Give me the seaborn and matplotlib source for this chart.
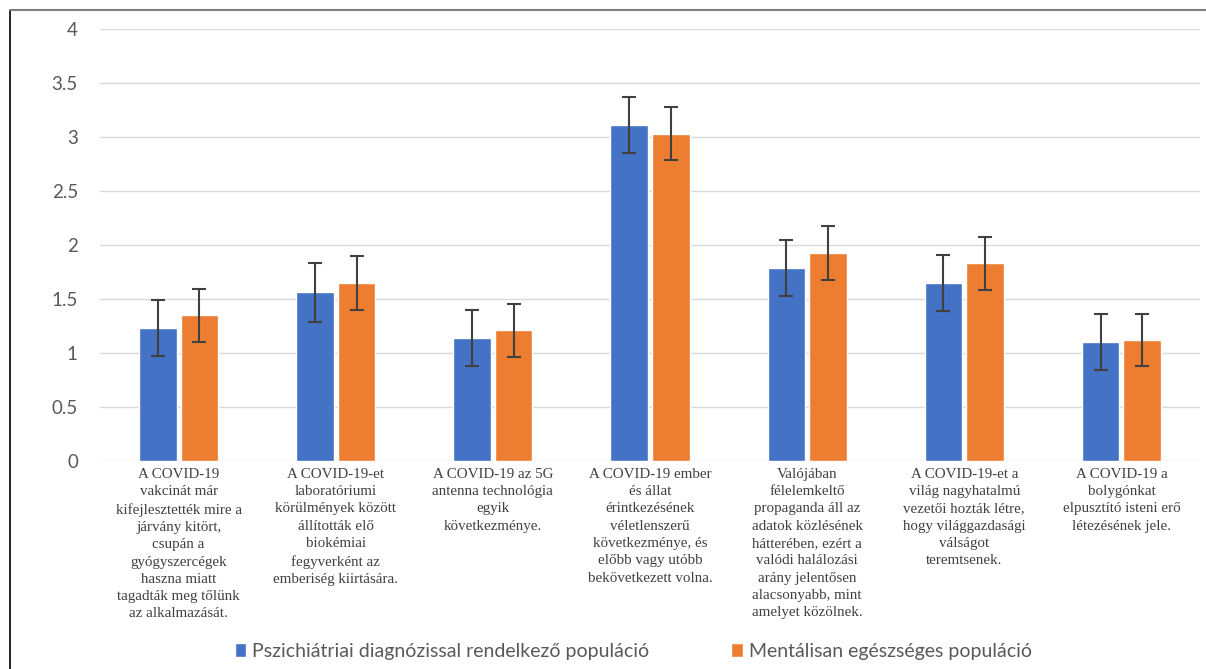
import numpy as np
import pandas as pd
import matplotlib.pyplot as plt
import seaborn as sns
from matplotlib.lines import Line2D
from matplotlib.patches import Patch

# ---------------------------------------------------------------------------
# Données
# ---------------------------------------------------------------------------
categories = [
    "A COVID-19\nvakcinát már\nkifejlesztették mire a\njárvány kitört,\ncsupán a\ngyógyszercégek\nhaszna miatt\ntagadták meg tőlünk\naz alkalmazását.",
    "A COVID-19-et\nlaboratóriumi\nkörülmények között\nállították elő\nbiokémiai\nfegyverként az\nemberiség kiirtására.",
    "A COVID-19 az 5G\nantenna technológia\negyik\nkövetkezménye.",
    "A COVID-19 ember\nés állat\nérintkezésének\nvéletlenszerű\nkövetkezménye, és\nelőbb vagy utóbb\nbekövetkezett volna.",
    "Valójában\nfélelemkeltő\npropaganda áll az\nadatok közlésének\nhátterében, ezért a\nvalódi halálozási\narány jelentősen\nalacsonyabb, mint\namelyet közölnek.",
    "A COVID-19-et a\nvilág nagyhatalmú\nvezetői hozták létre,\nhogy világgazdasági\nválságot\nteremtsenek.",
    "A COVID-19 a\nbolygónkat\nelpusztító isteni erő\nlétezésének jele.",
]
series = ["Pszichiátriai diagnózissal rendelkező populáció",
          "Mentálisan egészséges populáció"]

psych_mean = [1.23, 1.56, 1.14, 3.11, 1.79, 1.65, 1.10]
psych_err = [0.26, 0.27, 0.26, 0.26, 0.26, 0.26, 0.26]
healthy_mean = [1.35, 1.65, 1.21, 3.03, 1.93, 1.83, 1.12]
healthy_err = [0.245, 0.25, 0.245, 0.245, 0.25, 0.245, 0.245]

colors = ["#4472C4", "#ED7D31"]

df = pd.DataFrame({
    "cat": list(range(len(categories))) * 2,
    "group": [series[0]] * len(categories) + [series[1]] * len(categories),
    "mean": psych_mean + healthy_mean,
    "err": psych_err + healthy_err,
})

# ---------------------------------------------------------------------------
# Figure
# ---------------------------------------------------------------------------
sns.set_style("white")
fig = plt.figure(figsize=(12.06, 6.69), dpi=100)
ax = fig.add_axes([0.083, 0.311, 0.912, 0.6456])

sns.barplot(data=df, x="cat", y="mean", hue="group", palette=colors,
            width=0.53, gap=0.1, errorbar=None, legend=False, ax=ax,
            saturation=1)

# barres d'erreur à partir des barres dessinées
for container, errs in zip(ax.containers, [psych_err, healthy_err]):
    for bar, e in zip(container, errs):
        xc = bar.get_x() + bar.get_width() / 2
        ax.errorbar(xc, bar.get_height(), yerr=e, color="#404040",
                    elinewidth=1.5, capsize=5, capthick=1.5, zorder=4)

ax.set_ylim(0, 4)
ax.set_xlim(-0.5, len(categories) - 0.5)
ax.set_yticks(np.arange(0, 4.01, 0.5))
ax.set_yticklabels(["0", "0.5", "1", "1.5", "2", "2.5", "3", "3.5", "4"])
ax.set_xticks(range(len(categories)))
ax.set_xticklabels(categories, family="Liberation Serif", fontsize=10.8,
                   color="#404040", linespacing=1.43, va="top")
ax.tick_params(axis="x", length=0, pad=5)
ax.tick_params(axis="y", length=0, pad=16, labelsize=13.5, labelcolor="#595959")
for lab in ax.get_yticklabels():
    lab.set_family("Lato")
ax.grid(axis="y", color="#d9d9d9", linewidth=1)
ax.set_axisbelow(True)
for s in ax.spines.values():
    s.set_visible(False)
ax.set_xlabel("")
ax.set_ylabel("")

handles = [Patch(facecolor=c) for c in colors]
fig.legend(handles, series, loc="lower center", bbox_to_anchor=(0.525, -0.012),
           ncol=2, frameon=False, handlelength=0.6, handleheight=0.75,
           handletextpad=0.3, columnspacing=4.2,
           prop={"family": "Lato", "size": 14}, labelcolor="#595959")

# cadre
fig.add_artist(Line2D([10 / 1206, 10 / 1206], [0, 1 - 10 / 669],
                      transform=fig.transFigure, color="black", linewidth=1.2))
fig.add_artist(Line2D([10 / 1206, 1], [1 - 10 / 669, 1 - 10 / 669],
                      transform=fig.transFigure, color="#7f7f7f", linewidth=1.5))

fig.savefig("out.png", dpi=100)
